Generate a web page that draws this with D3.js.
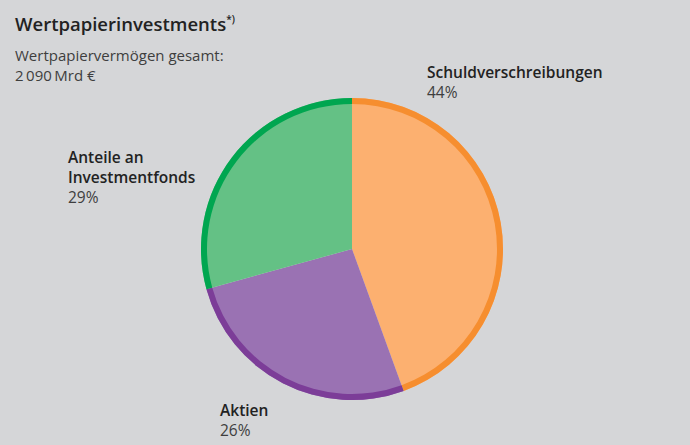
<!DOCTYPE html>
<html>
<head>
<meta charset="utf-8">
<script src="https://cdn.jsdelivr.net/npm/d3@7"></script>
<style>
  html, body { margin: 0; padding: 0; background: #d5d6d8; }
  svg { display: block; font-family: "Open Sans", "Noto Sans", sans-serif; }
  .lbl { font-size: 15.5px; fill: #222; }
  .lbl .name { font-weight: 600; }
</style>
</head>
<body>
<div id="chart"></div>
<script>
// chart data
let categories = ["Schuldverschreibungen", "Aktien", "Anteile an Investmentfonds"];
let shares = [44, 26, 29];
let fillColors = ["#fcb070", "#9a72b3", "#64c185"];
let ringColors = ["#f68e2f", "#7c3d98", "#00a650"];

let width = 690, height = 445;
let cx = 352, cy = 249, radius = 151, ring = 6;

let svg = d3.select("#chart").append("svg")
  .attr("width", width)
  .attr("height", height);

// title + subtitle
let title = svg.append("text")
  .attr("x", 15).attr("y", 31)
  .attr("font-size", 18.5).attr("font-weight", 600).attr("fill", "#222");
title.append("tspan").text("Wertpapierinvestments");
title.append("tspan").attr("font-size", 10).attr("dy", -8).text("*)");

svg.append("text").attr("x", 15).attr("y", 61)
  .attr("font-size", 15).attr("fill", "#3e3e3e")
  .text("Wertpapiervermögen gesamt:");
svg.append("text").attr("x", 15).attr("y", 81)
  .attr("font-size", 15).attr("fill", "#3e3e3e")
  .text("2\u2009090\u2009Mrd €");

let pie = d3.pie().sort(null).value(d => d.value);
let slices = pie(categories.map((c, i) => ({ name: c, value: shares[i], i: i })));

let arcFill = d3.arc().innerRadius(0).outerRadius(radius);
let arcRing = d3.arc().innerRadius(radius - ring).outerRadius(radius);

let g = svg.append("g").attr("transform", "translate(" + cx + "," + cy + ")");

g.selectAll(".slice")
  .data(slices).enter()
  .append("path")
  .attr("class", "slice")
  .attr("d", arcFill)
  .attr("fill", d => fillColors[d.data.i]);

g.selectAll(".ring")
  .data(slices).enter()
  .append("path")
  .attr("class", "ring")
  .attr("d", arcRing)
  .attr("fill", d => ringColors[d.data.i]);

// label placement (name lines + percent)
let labelPos = [
  { x: 427, y: 78, lines: ["Schuldverschreibungen"] },
  { x: 220, y: 416, lines: ["Aktien"] },
  { x: 68, y: 163, lines: ["Anteile an", "Investmentfonds"] }
];

labelPos.forEach(function(p, i) {
  let t = svg.append("text").attr("class", "lbl")
    .attr("x", p.x).attr("y", p.y);
  p.lines.forEach(function(l, k) {
    t.append("tspan").attr("class", "name")
      .attr("x", p.x).attr("dy", k == 0 ? 0 : 20).text(l);
  });
  t.append("tspan").attr("x", p.x).attr("dy", 20)
    .attr("fill", "#3e3e3e").text(shares[i] + "%");
});
</script>
</body>
</html>
